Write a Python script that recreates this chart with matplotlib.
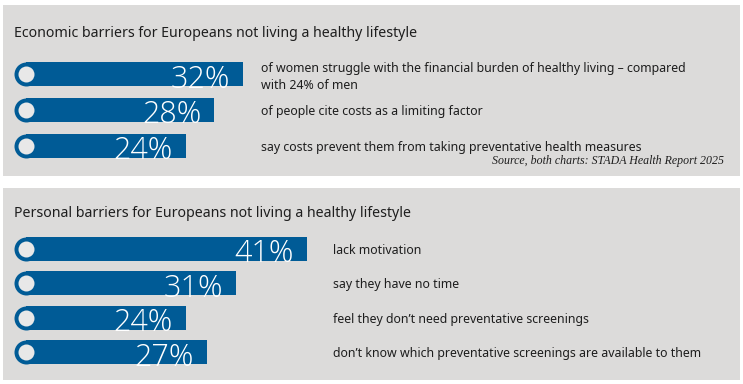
import matplotlib
matplotlib.use("Agg")
import matplotlib.pyplot as plt
from matplotlib.patches import Rectangle

# data
econ_title = "Economic barriers for Europeans not living a healthy lifestyle"
econ_values = [32, 28, 24]
econ_labels = [
    "of women struggle with the financial burden of healthy living \u2013 compared\nwith 24% of men",
    "of people cite costs as a limiting factor",
    "say costs prevent them from taking preventative health measures",
]
pers_title = "Personal barriers for Europeans not living a healthy lifestyle"
pers_values = [41, 31, 24, 27]
pers_labels = [
    "lack motivation",
    "say they have no time",
    "feel they don\u2019t need preventative screenings",
    "don\u2019t know which preventative screenings are available to them",
]
source = "Source, both charts: STADA Health Report 2025"

BAR = "#005b96"
BG = "#dcdbda"
TXT = "#1e1e1e"

W, H = 743, 384
PX = 7.15          # pixels per percent point
X0 = 14            # bar start in pixels
BAR_H = 24
CAP = 12 / PX      # rounded cap radius in data units

fig = plt.figure(figsize=(W / 100, H / 100), dpi=100)
fig.patch.set_facecolor("white")
ax = fig.add_axes([0, 0, 1, 1])
ax.set_xlim(-X0 / PX, (W - X0) / PX)
ax.set_ylim(H, 0)
ax.axis("off")
ax.patch.set_alpha(0)

# panel backgrounds (pixel layout)
for top, bottom in [(5, 176), (188, 380)]:
    ax.add_patch(Rectangle((-11 / PX, top), 737 / PX, bottom - top,
                           facecolor=BG, edgecolor="none", zorder=0))


def px2x(p):
    return (p - X0) / PX


def draw_panel(title, title_y, values, labels, y_first, step, label_x):
    ax.text(px2x(14), title_y, title, fontsize=10.2, color=TXT,
            family="Noto Sans", va="baseline", ha="left")
    for i, (v, lab) in enumerate(zip(values, labels)):
        yc = y_first + i * step
        bars = ax.barh(yc, v - CAP, left=CAP, height=BAR_H, color=BAR, zorder=2)
        ax.plot(CAP, yc, marker="o", markersize=BAR_H * 0.72, color=BAR,
                markeredgewidth=0, zorder=2)
        ax.plot(CAP, yc, marker="o", markersize=16 * 0.72, color="#e8e8e8",
                markeredgewidth=0, zorder=3)
        t = ax.text(v - 13 / PX, yc + BAR_H / 2 + 1.5, f"{v}%", fontsize=22,
                    color="white", family="Open Sans", fontweight="light",
                    ha="right", va="baseline", zorder=4)
        t.set_clip_path(bars.patches[0])
        dy = 3 if "\n" in lab else 1.5
        ax.text(px2x(label_x), yc + dy, lab, fontsize=8.9, color=TXT,
                family="Noto Sans", ha="left", va="center", linespacing=1.4)


draw_panel(econ_title, 37, econ_values, econ_labels, 74, 35.8, 261)
draw_panel(pers_title, 217, pers_values, pers_labels, 249, 34.4, 333)

ax.text(px2x(724), 164, source, fontsize=8.6, color=TXT, style="italic",
        family="Liberation Serif", ha="right", va="baseline")

fig.savefig("out.png", dpi=100)
